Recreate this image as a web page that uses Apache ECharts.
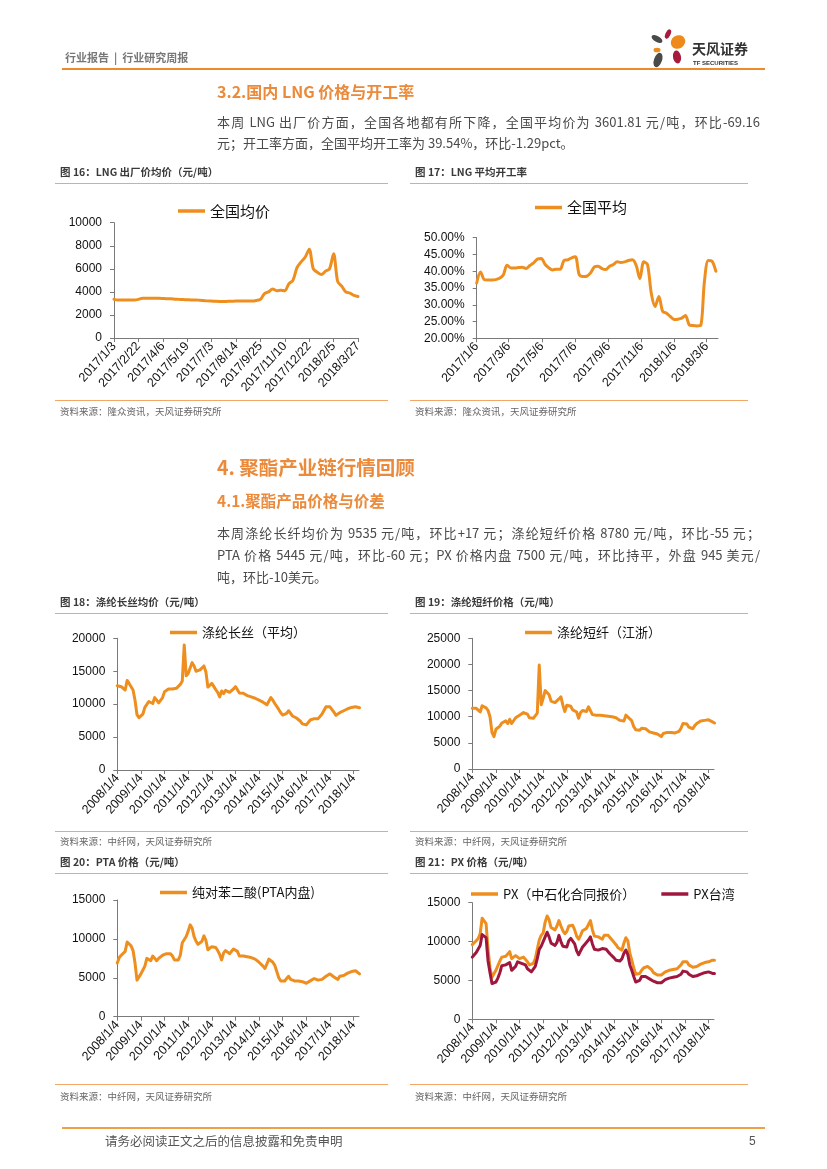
<!DOCTYPE html>
<html><head><meta charset="utf-8">
<script src="https://cdn.jsdelivr.net/npm/echarts@6/dist/echarts.min.js"></script>
<style>
html,body{margin:0;padding:0;background:#fff;}
#page{position:relative;width:827px;height:1169px;overflow:hidden;background:#fff;}
#chart{position:absolute;left:0;top:0;width:827px;height:1169px;}
.t{position:absolute;white-space:nowrap;font-family:"Noto Sans CJK SC","Liberation Sans",sans-serif;}
.rule{position:absolute;height:0;border-top:1.5px solid #F3A766;}
.h{color:#EB8A3A;font-weight:bold;}
.p{font-size:13px;color:#4a4a4a;line-height:20px;}
.j{width:543px;text-align:justify;text-align-last:justify;}
.cap{font-size:10.5px;font-weight:bold;color:#3a3a3a;line-height:14px;}
.src{font-size:9.5px;color:#666;line-height:14px;}
</style></head>
<body><div id="page">
<div id="chart"></div>

<div class="t" style="left:65px;top:49px;font-size:11px;line-height:16px;color:#777;font-weight:bold;">行业报告&nbsp;&nbsp;|&nbsp;&nbsp;行业研究周报</div>
<div style="position:absolute;left:62px;top:68px;width:703px;border-top:2px solid #EC8A2E;"></div>
<svg style="position:absolute;left:645px;top:26px;" width="50" height="46" viewBox="0 0 50 46">
  <ellipse cx="23" cy="8" rx="2.5" ry="5" fill="#A51C3C" transform="rotate(25 23 8)"/>
  <ellipse cx="12" cy="13" rx="6" ry="3" fill="#4a4a4a" transform="rotate(30 12 13)"/>
  <ellipse cx="33" cy="16" rx="7.5" ry="6.5" fill="#EE8A1C" transform="rotate(-30 33 16)"/>
  <ellipse cx="12" cy="24" rx="3.5" ry="2.3" fill="#EE8A1C"/>
  <ellipse cx="32" cy="31" rx="4" ry="6.5" fill="#A51C3C" transform="rotate(-10 32 31)"/>
  <ellipse cx="13" cy="34" rx="4" ry="7.5" fill="#4a4a4a" transform="rotate(20 13 34)"/>
</svg>
<div class="t" style="left:692px;top:39px;font-size:14px;line-height:18px;font-weight:bold;color:#333;">天风证券</div>
<div class="t" style="left:693px;top:59px;font-size:6px;line-height:8px;font-weight:bold;color:#333;font-family:'Liberation Sans Narrow','Liberation Sans',sans-serif;">TF SECURITIES</div>

<div class="t h" style="left:217px;top:80px;font-size:16px;line-height:22px;">3.2.国内 LNG 价格与开工率</div>
<div class="t p j" style="left:217px;top:112px;">本周 LNG 出厂价方面，全国各地都有所下降，全国平均价为 3601.81 元/吨，环比-69.16</div>
<div class="t p" style="left:217px;top:133px;">元；开工率方面，全国平均开工率为 39.54%，环比-1.29pct。</div>

<div class="t cap" style="left:60px;top:165px;">图 16：LNG 出厂价均价（元/吨）</div>
<div class="t cap" style="left:415px;top:165px;">图 17：LNG 平均开工率</div>
<div class="rule" style="left:55px;top:183px;width:333px;"></div>
<div class="rule" style="left:410px;top:183px;width:338px;"></div>
<div class="rule" style="left:55px;top:400px;width:333px;"></div>
<div class="rule" style="left:410px;top:400px;width:338px;"></div>
<div class="t src" style="left:60px;top:404px;">资料来源：隆众资讯，天风证券研究所</div>
<div class="t src" style="left:415px;top:404px;">资料来源：隆众资讯，天风证券研究所</div>

<div class="t h" style="left:217px;top:454px;font-size:19.5px;line-height:26px;">4. 聚酯产业链行情回顾</div>
<div class="t h" style="left:217px;top:489px;font-size:15.5px;line-height:22px;">4.1.聚酯产品价格与价差</div>
<div class="t p j" style="left:217px;top:523px;">本周涤纶长纤均价为 9535 元/吨，环比+17 元；涤纶短纤价格 8780 元/吨，环比-55 元；</div>
<div class="t p j" style="left:217px;top:545px;">PTA 价格 5445 元/吨，环比-60 元；PX 价格内盘 7500 元/吨，环比持平，外盘 945 美元/</div>
<div class="t p" style="left:217px;top:567px;">吨，环比-10美元。</div>

<div class="t cap" style="left:60px;top:595px;">图 18：涤纶长丝均价（元/吨）</div>
<div class="t cap" style="left:415px;top:595px;">图 19：涤纶短纤价格（元/吨）</div>
<div class="rule" style="left:55px;top:613px;width:333px;"></div>
<div class="rule" style="left:410px;top:613px;width:338px;"></div>
<div class="rule" style="left:55px;top:831px;width:333px;"></div>
<div class="rule" style="left:410px;top:831px;width:338px;"></div>
<div class="t src" style="left:60px;top:834px;">资料来源：中纤网，天风证券研究所</div>
<div class="t src" style="left:415px;top:834px;">资料来源：中纤网，天风证券研究所</div>

<div class="t cap" style="left:60px;top:855px;">图 20：PTA 价格（元/吨）</div>
<div class="t cap" style="left:415px;top:855px;">图 21：PX 价格（元/吨）</div>
<div class="rule" style="left:55px;top:873px;width:333px;"></div>
<div class="rule" style="left:410px;top:873px;width:338px;"></div>
<div class="rule" style="left:55px;top:1084px;width:333px;"></div>
<div class="rule" style="left:410px;top:1084px;width:338px;"></div>
<div class="t src" style="left:60px;top:1089px;">资料来源：中纤网，天风证券研究所</div>
<div class="t src" style="left:415px;top:1089px;">资料来源：中纤网，天风证券研究所</div>

<div style="position:absolute;left:62px;top:1127px;width:703px;border-top:2.5px solid #EDA045;"></div>
<div class="t" style="left:105px;top:1133px;font-size:12.5px;line-height:16px;color:#555;">请务必阅读正文之后的信息披露和免责申明</div>
<div class="t" style="left:749px;top:1133px;font-size:12px;line-height:16px;color:#555;font-family:'Liberation Sans',sans-serif;">5</div>
</div>
<script>
// ---------- data ----------
const lngLabels = ['2017/1/3','2017/2/22','2017/4/6','2017/5/19','2017/7/3','2017/8/14','2017/9/25','2017/11/10','2017/12/22','2018/2/5','2018/3/27'];
const lngPrice = [3350,3300,3300,3300,3300,3300,3350,3450,3450,3450,3450,3450,3430,3400,3400,3370,3350,3330,3320,3300,
  3300,3280,3250,3220,3200,3180,3170,3170,3180,3190,3200,3200,3200,3200,3200,3250,3350,3850,4000,4250,
  4100,4150,4100,4700,5000,6100,6600,7000,7700,6000,5700,5500,5800,6000,7300,4900,4500,4000,3900,3700,3600];

const rateLabels = ['2017/1/6','2017/3/6','2017/5/6','2017/7/6','2017/9/6','2017/11/6','2018/1/6','2018/3/6'];
const rateEnd = '2018/3/27';
const rateWeekly = [36.5,39.8,37.5,37.4,37.4,37.5,37.9,38.9,41.8,41.0,
  41.0,41.1,41.2,40.8,41.7,42.5,43.6,43.8,42.1,41.0,
  40.4,40.6,40.6,43.2,43.4,44.0,44.3,39.0,38.4,38.5,
  39.5,41.3,41.5,40.8,40.5,41.5,42.0,42.8,42.6,42.8,
  43.2,43.4,41.8,37.8,42.8,42.0,33.4,29.5,32.5,28.0,
  27.5,26.5,25.6,25.7,26.0,26.8,24.0,23.8,23.7,23.8,
  37.0,43.2,43.0,40.0];

const yearLabels = ['2008/1/4','2009/1/4','2010/1/4','2011/1/4','2012/1/4','2013/1/4','2014/1/4','2015/1/4','2016/1/4','2017/1/4','2018/1/4'];

const filament = [12800,12700,12650,12650,12150,13600,13150,12650,12150,10600,8400,7950,
  8100,8500,9500,9800,10400,10600,10100,11000,10600,10200,10100,11000,
  11900,12100,12300,12200,12300,12600,12400,12700,13000,13500,19000,14300,
  14650,15500,16300,15800,15000,14900,15200,15300,15800,14900,12600,12700,
  13150,12700,12200,11800,11100,12000,11600,12100,12150,11800,11900,12300,
  12650,12200,11700,11550,11650,11500,11300,11100,11100,11000,10900,10700,
  10600,10600,10300,10100,9900,9900,11000,10600,10100,9850,9200,8700,
  8350,8600,8600,9000,9300,8200,8100,7900,7700,7400,7000,6850,
  6850,7000,7600,7700,7800,7700,7800,8100,8500,8800,9600,9600,
  9600,9500,8800,8300,8400,8700,8900,9000,9100,9300,9400,9500,
  9300,9600,9500,9450];

const staple = [11600,11500,11600,11300,10900,12100,11900,11700,11200,10000,7000,6200,
  7600,7800,8200,8800,8600,9200,8700,9500,8700,9000,9800,9600,
  10300,10600,10800,10700,10500,9800,9700,9700,9900,10700,19900,12300,
  13500,15000,14800,14200,13000,12800,12700,13000,13400,13800,12200,11000,
  12200,12500,12000,11300,11000,10900,9700,10800,11200,11200,11000,11900,
  11600,10400,10300,10300,10400,10300,10200,10200,10300,10100,10000,10000,
  10000,9800,9600,9300,9100,9200,10300,10000,9600,9200,8100,7500,
  7200,7400,7800,8100,7700,7400,7100,7100,6900,6800,6700,6500,
  6200,6800,7100,7000,6900,7000,7100,6900,6800,7200,7800,8700,
  9000,8600,8000,7700,7700,8300,8700,8800,9200,9400,9300,9300,
  9400,9300,9000,8800];

const pta = [6900,7600,7900,7800,8400,9600,9400,9100,8500,6900,4700,4900,
  5500,6000,6500,7500,7300,7200,7800,7500,7200,7500,7700,7900,
  8000,8100,8300,8100,7800,7300,7300,7300,7900,9500,9500,10300,
  11000,11800,11400,10300,9700,9300,9300,9700,10400,9800,8600,8500,
  9000,9200,8900,8500,8000,7300,8200,8500,8300,8100,8300,8700,
  8600,8400,7800,7900,7800,7800,7700,7700,7600,7500,7400,7200,
  7000,6800,6500,6200,6300,7400,7400,7000,6600,5800,5000,4600,
  4500,4600,4900,5200,4800,4700,4600,4500,4600,4700,4500,4400,
  4300,4400,4600,4800,4900,4800,4700,4700,4800,4900,5200,5400,
  5500,5300,5100,4900,4800,5200,5400,5300,5400,5600,5600,5800,
  5800,5900,6000,5500];

const pxSinopec = [9600,9700,10100,10400,11000,13000,13100,12300,9000,6600,5400,5300,
  6300,6900,7500,8000,8200,8100,7900,8700,7800,7700,8200,8200,
  7800,8000,8000,7900,7400,7000,6900,7200,7800,9000,10200,10800,
  11100,12500,13300,12800,11800,11600,11500,12000,12700,12000,11400,11000,
  11300,12000,12200,12100,11500,10700,10300,10800,11400,11600,11700,12200,
  12700,11500,10700,10600,10600,10400,10300,10800,11000,10800,10500,10200,
  9900,9600,9200,9000,8900,9800,10500,10100,8500,7600,6600,5800,
  5600,5900,6300,6600,6700,6800,6700,6400,6000,5800,5700,5700,
  5700,5800,6100,6300,6300,6400,6400,6500,6500,6700,7000,7400,
  7600,7400,7000,6800,6700,6700,6800,7000,7100,7200,7300,7400,
  7400,7500,7600,7600];

const pxTaiwan = [8000,8300,8600,8800,9500,10900,11000,10500,7500,6000,4600,4600,
  4800,5300,6000,6900,7000,7000,6800,7300,6300,6400,6800,7400,
  7600,7200,7000,7000,6500,6300,6100,6200,6800,7800,9000,9400,
  9600,10600,11200,10600,9800,9600,9500,9900,10800,10000,9400,9300,
  9300,10100,10400,10400,9700,8800,8300,8800,9300,9600,9800,10200,
  10600,9700,9000,8900,8900,9000,9100,9200,9000,8700,8400,8200,
  7900,7600,7400,7500,7800,8500,8900,8300,7000,6300,5500,4800,
  4700,5000,5500,5700,5500,5300,5200,5000,4900,4800,4700,4600,
  4700,4800,5100,5300,5300,5300,5400,5400,5500,5600,5800,6200,
  6300,6100,5800,5600,5500,5500,5600,5700,5800,5900,6000,6100,
  6100,6000,5900,5900];

// ---------- helpers ----------
const ORANGE = '#EE8E1E', CRIMSON = '#A0173E', AXIS = '#7a7a7a';
const NUMFONT = '"Liberation Sans", Arial, sans-serif';
const CJKFONT = '"Noto Sans CJK SC", sans-serif';

function dayDiff(a, b) {
  const p = s => { const [y, m, d] = s.split('/').map(Number); return Date.UTC(y, m - 1, d); };
  return Math.round((p(b) - p(a)) / 864e5);
}

const lngStep = 5, lngLabelStep = 30;
const lngTicks = lngLabels.map((_, i) => i * lngLabelStep);
const rateTicks = rateLabels.map(l => dayDiff(rateLabels[0], l));
const rateMax = dayDiff(rateLabels[0], rateEnd);
const yearTicks = yearLabels.map((_, i) => i);
const yearMax = 10.23;

function yAxis(grid, min, max, interval, fmt) {
  return { type: 'value', gridIndex: grid, min, max, interval,
    axisLine: { show: true, lineStyle: { color: AXIS, width: 1 } },
    axisTick: { show: true, length: 4, lineStyle: { color: AXIS } },
    splitLine: { show: false },
    axisLabel: { fontFamily: NUMFONT, color: '#111', fontSize: 12, margin: 12, formatter: fmt } };
}
function xAxis(grid, max, ticks, labels) {
  return { type: 'value', gridIndex: grid, min: 0, max,
    axisLine: { show: true, onZero: false, lineStyle: { color: AXIS, width: 1 } },
    axisTick: { show: true, length: 4, customValues: ticks, lineStyle: { color: AXIS } },
    splitLine: { show: false },
    axisLabel: { fontFamily: NUMFONT, color: '#111', fontSize: 12.5, rotate: 48, margin: 6,
      customValues: ticks,
      formatter: v => { const k = ticks.findIndex(t => Math.abs(t - v) < 1e-6); return k >= 0 ? labels[k] : ''; } } };
}
function line(name, idx, data, color, smooth) {
  return { type: 'line', name, xAxisIndex: idx, yAxisIndex: idx, data, showSymbol: false, symbol: 'none',
    smooth: smooth || false, clip: true, silent: true,
    lineStyle: { color, width: 3, cap: 'round', join: 'round' }, itemStyle: { color } };
}
function legend(names, left, top, fontSize, gap) {
  return { show: true, left, top, padding: 0, itemGap: gap || 10, icon: 'rect', itemWidth: 27, itemHeight: 3.5,
    selectedMode: false, data: names,
    textStyle: { fontSize, color: '#111', fontFamily: CJKFONT } };
}
const plain = v => String(v);
const monthly = arr => arr.map((v, i) => [i / 12, v]);

const option = {
  animation: false,
  backgroundColor: 'transparent',
  grid: [
    { left: 114, top: 222.7, width: 244, height: 115.3 },
    { left: 476.7, top: 237.7, width: 241.3, height: 100.6 },
    { left: 117.3, top: 638.3, width: 241.7, height: 131.7 },
    { left: 472.3, top: 638.3, width: 241.7, height: 130.7 },
    { left: 117.3, top: 900, width: 241.7, height: 116.7 },
    { left: 472.3, top: 902.7, width: 241.7, height: 116.6 }
  ],
  xAxis: [
    xAxis(0, lngTicks[lngTicks.length - 1], lngTicks, lngLabels),
    xAxis(1, rateMax, rateTicks, rateLabels),
    xAxis(2, yearMax, yearTicks, yearLabels),
    xAxis(3, yearMax, yearTicks, yearLabels),
    xAxis(4, yearMax, yearTicks, yearLabels),
    xAxis(5, yearMax, yearTicks, yearLabels)
  ],
  yAxis: [
    yAxis(0, 0, 10000, 2000, plain),
    yAxis(1, 20, 50, 5, v => v.toFixed(2) + '%'),
    yAxis(2, 0, 20000, 5000, plain),
    yAxis(3, 0, 25000, 5000, plain),
    yAxis(4, 0, 15000, 5000, plain),
    yAxis(5, 0, 15000, 5000, plain)
  ],
  legend: [
    legend(['全国均价'], 178, 203.5, 15),
    legend(['全国平均'], 535, 200, 15),
    legend(['涤纶长丝（平均）'], 170, 626, 13),
    legend(['涤纶短纤（江浙）'], 525, 626, 13),
    legend(['纯对苯二酸(PTA内盘)'], 160, 886, 13),
    legend(['PX（中石化合同报价）', 'PX台湾'], 471, 887.5, 13, 26)
  ],
  series: [
    line('全国均价', 0, lngPrice.map((v, i) => [i * lngStep, v]), ORANGE, 0.3),
    line('全国平均', 1, rateWeekly.map((v, i) => [i * 7, v]), ORANGE, 0.3),
    line('涤纶长丝（平均）', 2, monthly(filament), ORANGE),
    line('涤纶短纤（江浙）', 3, monthly(staple), ORANGE),
    line('纯对苯二酸(PTA内盘)', 4, monthly(pta), ORANGE),
    line('PX（中石化合同报价）', 5, monthly(pxSinopec), ORANGE),
    line('PX台湾', 5, monthly(pxTaiwan), CRIMSON)
  ]
};
const chart = echarts.init(document.getElementById('chart'), null, { renderer: 'canvas' });
chart.setOption(option);
</script>
</body></html>
